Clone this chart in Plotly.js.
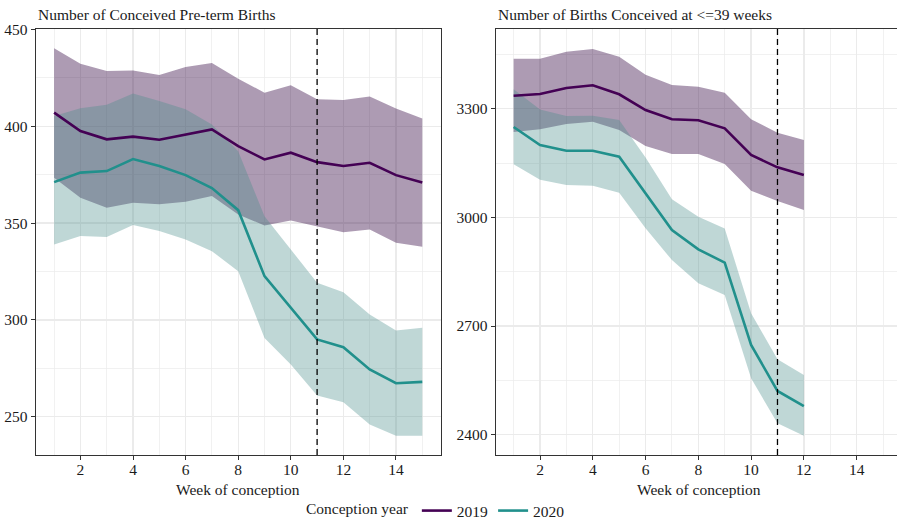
<!DOCTYPE html>
<html><head><meta charset="utf-8">
<script src="https://cdn.plot.ly/plotly-3.0.1.min.js"></script>
<style>html,body{margin:0;padding:0;background:#fff}#chart{width:897px;height:521px}</style>
</head><body><div id="chart"></div>
<script>
// ---- data ----
const weeksPreterm = [1,2,3,4,5,6,7,8,9,10,11,12,13,14,15];
const preterm2019 = [407.1,397.6,393.3,394.7,393.1,395.9,398.4,389.8,382.9,386.4,381.5,379.5,381.2,374.8,371.0];
const preterm2019Upper = [440.3,432.4,428.6,428.8,426.5,430.7,432.7,424.6,417.4,421.2,414.0,413.6,415.4,409.2,404.1];
const preterm2019Lower = [373.5,363.1,358.0,360.5,359.7,361.0,364.0,354.5,348.8,351.4,348.4,345.3,346.7,339.8,337.8];
const preterm2020 = [371.2,376.1,376.9,383.1,379.5,374.8,368.1,356.7,322.6,306.3,289.9,285.9,274.4,267.3,268.0];
const preterm2020Upper = [405.3,409.3,411.2,417.0,413.1,408.8,401.0,387.2,353.6,336.4,319.2,314.3,302.8,294.5,295.9];
const preterm2020Lower = [339.0,343.3,342.8,349.0,345.9,341.6,335.5,325.2,290.7,276.9,260.9,257.5,245.9,240.2,240.2];

const weeksTerm = [1,2,3,4,5,6,7,8,9,10,11,12];
const term2019 = [3335.9,3340.6,3357.0,3364.6,3339.7,3296.4,3270.7,3268.0,3245.9,3172.2,3138.2,3117.0];
const term2019Upper = [3438.0,3438.0,3457.4,3464.8,3443.6,3393.9,3365.4,3360.7,3344.2,3270.7,3233.7,3213.6];
const term2019Lower = [3235.7,3243.0,3257.8,3264.0,3241.0,3197.0,3175.0,3175.0,3147.3,3073.6,3045.0,3020.3];
const term2020 = [3249.5,3199.8,3184.0,3184.0,3167.5,3066.4,2965.0,2911.8,2874.9,2647.7,2520.7,2479.0];
const term2020Upper = [3353.5,3298.0,3279.8,3280.7,3268.8,3165.0,3050.0,3001.9,2969.5,2735.0,2608.0,2564.8];
const term2020Lower = [3146.5,3103.9,3089.4,3087.5,3068.0,2970.0,2882.0,2818.0,2785.7,2555.7,2431.5,2397.0];

const cutoffWeek = [11];
const years = ['2019','2020'];
const panelTitles = ['Number of Conceived Pre-term Births','Number of Births Conceived at <=39 weeks'];
const xTitle = 'Week of conception';
const legendTitle = 'Conception year';

// ---- styles ----
const lineColors = {'2019':'#440154','2020':'#21908C'};
const fillColors = {'2019':'rgba(50,5,65,0.4)','2020':'rgba(72,141,138,0.35)'};
const FONT = 'Liberation Serif';
const TXT = '#1a1a1a';
const FS = 15.5;

function band(x, lo, hi, year, xa, ya){
  return {x: x.concat(x.slice().reverse()), y: hi.concat(lo.slice().reverse()),
    type:'scatter', mode:'lines', fill:'toself', fillcolor: fillColors[year],
    line:{width:0, color:'rgba(0,0,0,0)'}, hoverinfo:'skip', showlegend:false, xaxis:xa, yaxis:ya};
}
function line(x, y, year, xa, ya, showlegend){
  return {x:x, y:y, type:'scatter', mode:'lines', name:year, legendgroup:year,
    line:{color:lineColors[year], width:2.6}, showlegend:showlegend, xaxis:xa, yaxis:ya};
}

const traces = [
  band(weeksPreterm, preterm2019Lower, preterm2019Upper, '2019','x','y'),
  band(weeksPreterm, preterm2020Lower, preterm2020Upper, '2020','x','y'),
  band(weeksTerm, term2019Lower, term2019Upper, '2019','x2','y2'),
  band(weeksTerm, term2020Lower, term2020Upper, '2020','x2','y2'),
  line(weeksPreterm, preterm2019, '2019','x','y', true),
  line(weeksPreterm, preterm2020, '2020','x','y', true),
  line(weeksTerm, term2019, '2019','x2','y2', false),
  line(weeksTerm, term2020, '2020','x2','y2', false)
];

const W = 897, H = 521;
const leftDom = [35.7/W, 440.7/W];
const rightDom = [495.7/W, 1];
const grid = {showgrid:true, gridcolor:'#EBEBEB', gridwidth:1.3, zeroline:false,
  ticks:'outside', ticklen:4, tickwidth:1, tickcolor:'#333',
  tickfont:{family:FONT, size:FS, color:TXT}, showline:true, linecolor:'#333', linewidth:1.1};

const layout = {
  width:W, height:H, paper_bgcolor:'#fff', plot_bgcolor:'#fff',
  margin:{l:0, r:0, t:29, b:66, autoexpand:false},
  font:{family:FONT, color:TXT, size:FS},
  xaxis: Object.assign({}, grid, {domain:leftDom, range:[0.3,15.7], tick0:0, dtick:2, mirror:true, ticklabelstandoff:-4,
    minor:{dtick:1, showgrid:true, gridcolor:'#EBEBEB', gridwidth:0.7}, anchor:'y'}),
  yaxis: Object.assign({}, grid, {range:[230.2,450.3], tick0:0, dtick:50, mirror:true,
    minor:{dtick:25, showgrid:true, gridcolor:'#EBEBEB', gridwidth:0.7}, anchor:'x'}),
  xaxis2: Object.assign({}, grid, {domain:rightDom, range:[0.32,15.53], tick0:0, dtick:2, mirror:true, ticklabelstandoff:-4,
    minor:{dtick:1, showgrid:true, gridcolor:'#EBEBEB', gridwidth:0.7}, anchor:'y2'}),
  yaxis2: Object.assign({}, grid, {range:[2344,3520], tick0:0, dtick:300, mirror:false,
    minor:{dtick:150, showgrid:true, gridcolor:'#EBEBEB', gridwidth:0.7}, anchor:'x2'}),
  shapes: [
    {type:'line', xref:'x', yref:'y domain', x0:cutoffWeek[0], x1:cutoffWeek[0], y0:0, y1:1,
      line:{color:'#000', width:1.3, dash:'6px,4px'}, layer:'above'},
    {type:'line', xref:'x2', yref:'y2 domain', x0:cutoffWeek[0], x1:cutoffWeek[0], y0:0, y1:1,
      line:{color:'#000', width:1.3, dash:'6px,4px'}, layer:'above'}
  ],
  annotations: [
    {text:panelTitles[0], xref:'paper', yref:'paper', x:leftDom[0], y:(455-14)/426, xanchor:'left', yanchor:'middle', showarrow:false, font:{family:FONT,size:FS,color:TXT}},
    {text:panelTitles[1], xref:'paper', yref:'paper', x:rightDom[0], y:(455-14)/426, xanchor:'left', yanchor:'middle', showarrow:false, font:{family:FONT,size:FS,color:TXT}},
    {text:xTitle, xref:'paper', yref:'paper', x:238.2/W, y:(455-489)/426, xanchor:'center', yanchor:'middle', showarrow:false, font:{family:FONT,size:FS,color:TXT}},
    {text:xTitle, xref:'paper', yref:'paper', x:698.6/W, y:(455-489)/426, xanchor:'center', yanchor:'middle', showarrow:false, font:{family:FONT,size:FS,color:TXT}}
  ],
  legend: {orientation:'h', x:437/W, xanchor:'center', y:(455-511)/426, yanchor:'middle',
    title:{text:legendTitle, side:'left', font:{family:FONT,size:FS,color:TXT}},
    font:{family:FONT,size:FS,color:TXT}, bgcolor:'rgba(0,0,0,0)', itemwidth:30, tracegroupgap:0},
  showlegend:true
};

Plotly.newPlot('chart', traces, layout, {displayModeBar:false, staticPlot:true});
</script></body></html>
